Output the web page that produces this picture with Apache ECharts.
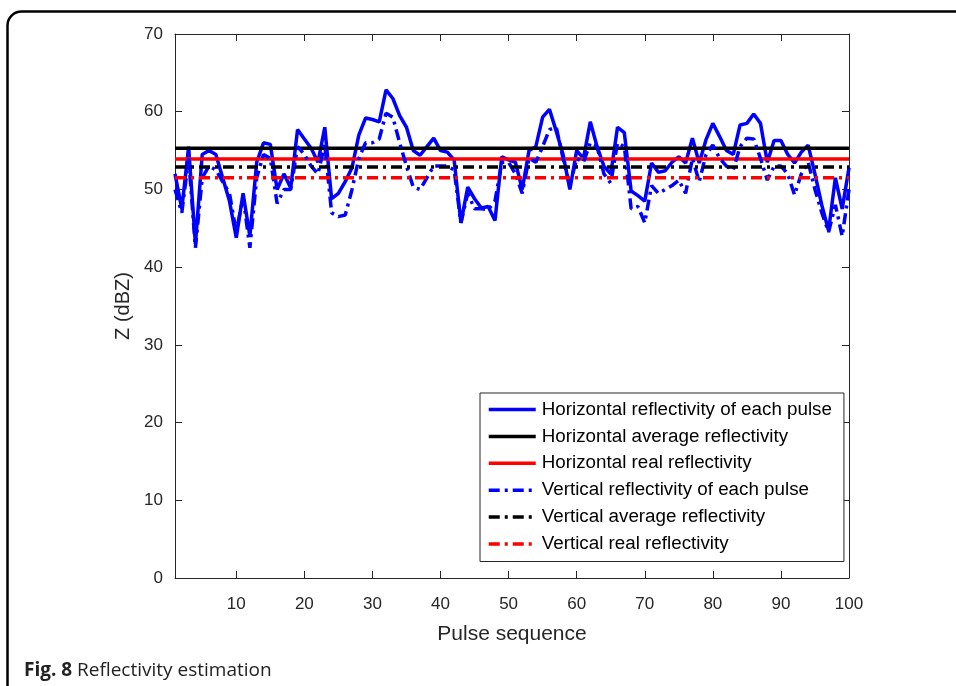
<!DOCTYPE html>
<html>
<head>
<meta charset="utf-8">
<script src="https://cdn.jsdelivr.net/npm/echarts@6/dist/echarts.min.js"></script>
<style>
  html, body { margin: 0; padding: 0; background: #fff; }
  #chart { width: 956px; height: 686px; }
</style>
</head>
<body>
<div id="chart"></div>
<script>
// pulse index 1..100
var pulses = [];
for (var i = 1; i <= 100; i++) pulses.push(i);

// horizontal reflectivity of each pulse (dBZ)
var hPulse = [
    52, 47.5, 55.5, 43, 54.5, 55, 54.5, 51.5, 48.5, 43.8,
    49.5, 44, 53.5, 56, 55.8, 50, 52, 50.2, 57.7, 56.5,
    55.3, 53.5, 58, 48.8, 49.5, 51, 52.8, 57, 59.2, 59,
    58.7, 62.8, 61.7, 59.5, 58, 55, 54.4, 55.5, 56.6, 55,
    54.8, 53.8, 45.7, 50.3, 48.8, 47.6, 47.8, 46, 54.2, 53.8,
    53.5, 50, 55, 55.5, 59.3, 60.3, 57.5, 54.5, 50, 55,
    54, 58.7, 55.5, 53, 52, 58, 57.3, 49.8, 49.2, 48.5,
    53.4, 52.2, 52.4, 53.5, 54.2, 53.4, 56.6, 53.4, 56.4, 58.5,
    56.8, 55, 54.5, 58.3, 58.5, 59.7, 58.5, 53.5, 56.3, 56.3,
    54.5, 53.4, 54.8, 55.7, 52, 48, 44.7, 51.5, 47.5, 52.8
];

// vertical reflectivity of each pulse (dBZ)
var vPulse = [
    50, 47, 54, 42.5, 51.5, 53, 52.5, 51, 49.5, 44.5,
    49, 42.5, 51.5, 54.5, 54, 48.2, 50, 50, 55.5, 54.5,
    53, 52, 55.8, 47, 46.5, 46.7, 50, 54, 56, 56,
    56.5, 59.8, 59.3, 56, 53, 50.3, 50, 51.5, 53, 53,
    53, 52.5, 45.7, 49.5, 47.5, 47.5, 47.4, 48.5, 53.5, 53.5,
    52, 49.5, 54, 53.5, 55.5, 57.7, 58, 54, 50.5, 54,
    53.5, 56, 55.5, 52, 50.8, 56, 55.5, 47.5, 47.8, 45.7,
    50.5, 49.5, 50, 50.5, 51.2, 49.5, 54, 51, 54.5, 55.7,
    54, 53, 52.5, 55.5, 56.6, 56.5, 54, 51.2, 53, 53,
    52, 49.3, 52, 53.5, 50, 47, 44.5, 48, 44, 50
];

var hAverage = 55.3;
var hReal = 53.9;
var vAverage = 52.9;
var vReal = 51.5;

var seriesNames = [
    'Horizontal reflectivity of each pulse',
    'Horizontal average reflectivity',
    'Horizontal real reflectivity',
    'Vertical reflectivity of each pulse',
    'Vertical average reflectivity',
    'Vertical real reflectivity'
];

var xTicks = [10, 20, 30, 40, 50, 60, 70, 80, 90, 100];

function pairs(values) {
    return pulses.map(function (p, k) { return [p, values[k]]; });
}
function flat(v) {
    return [[1, v], [100, v]];
}

var dashDot = [11, 5, 3, 5];
var axisGrey = '#262626';
var font = 'Liberation Sans, Arial, Helvetica, sans-serif';

function lineSeries(name, data, color, dashed) {
    return {
        name: name,
        type: 'line',
        data: data,
        symbol: 'none',
        animation: false,
        lineStyle: { color: color, width: 3.5, type: dashed ? dashDot : 'solid' },
        itemStyle: { color: color }
    };
}

var chart = echarts.init(document.getElementById('chart'));

var option = {
    backgroundColor: '#fff',
    animation: false,
    grid: { left: 175, right: 107, top: 34, bottom: 108, containLabel: false },
    xAxis: [{
        type: 'value',
        min: 1,
        max: 100,
        name: 'Pulse sequence',
        nameLocation: 'middle',
        nameGap: 46,
        nameTextStyle: { fontSize: 21, color: axisGrey, fontFamily: font },
        axisLine: { show: true, onZero: false, lineStyle: { color: axisGrey, width: 1 } },
        axisTick: { inside: true, length: 7, customValues: xTicks, lineStyle: { color: axisGrey } },
        axisLabel: { customValues: xTicks, fontSize: 17, color: axisGrey, fontFamily: font, margin: 18 },
        splitLine: { show: false }
    }, {
        type: 'value',
        position: 'top',
        min: 1,
        max: 100,
        axisLine: { show: true, onZero: false, lineStyle: { color: axisGrey, width: 1 } },
        axisTick: { inside: true, length: 7, customValues: xTicks, lineStyle: { color: axisGrey } },
        axisLabel: { show: false },
        splitLine: { show: false }
    }],
    yAxis: [{
        type: 'value',
        min: 0,
        max: 70,
        interval: 10,
        name: 'Z (dBZ)',
        nameLocation: 'middle',
        nameGap: 40,
        nameTextStyle: { fontSize: 20, color: axisGrey, fontFamily: font },
        axisLine: { show: true, onZero: false, lineStyle: { color: axisGrey, width: 1 } },
        axisTick: { inside: true, length: 7, lineStyle: { color: axisGrey } },
        axisLabel: { fontSize: 17, color: axisGrey, fontFamily: font, margin: 12 },
        splitLine: { show: false }
    }, {
        type: 'value',
        position: 'right',
        min: 0,
        max: 70,
        interval: 10,
        axisLine: { show: true, onZero: false, lineStyle: { color: axisGrey, width: 1 } },
        axisTick: { inside: true, length: 7, lineStyle: { color: axisGrey } },
        axisLabel: { show: false },
        splitLine: { show: false }
    }],
    legend: {
        orient: 'vertical',
        left: 480,
        top: 393,
        itemWidth: 47,
        itemHeight: 14,
        itemGap: 7.9,
        padding: [7, 12, 8, 7],
        backgroundColor: '#fff',
        borderColor: axisGrey,
        borderWidth: 1,
        textStyle: { fontSize: 18.8, lineHeight: 19, color: '#000', fontFamily: font, padding: [0, 0, 0, 1] },
        itemStyle: { opacity: 0 },
        lineStyle: { width: 3.5 },
        data: seriesNames
    },
    graphic: [{
        type: 'rect',
        left: 5,
        top: 9,
        shape: { x: 0, y: 0, width: 1000, height: 720, r: [14, 0, 0, 0] },
        style: { fill: 'none', stroke: '#000', lineWidth: 2.5 },
        silent: true
    }, {
        type: 'text',
        left: 24,
        top: 661,
        style: {
            text: '{b|Fig. 8} Reflectivity estimation',
            rich: {
                b: { fontWeight: 'bold', fontSize: 19, fontFamily: 'Open Sans, Noto Sans, sans-serif', fill: '#222' }
            },
            fontSize: 19,
            fontFamily: 'Open Sans, Noto Sans, sans-serif',
            fill: '#222'
        }
    }],
    series: [
        lineSeries(seriesNames[0], pairs(hPulse), '#0000ff', false),
        lineSeries(seriesNames[1], flat(hAverage), '#000000', false),
        lineSeries(seriesNames[2], flat(hReal), '#ff0000', false),
        lineSeries(seriesNames[3], pairs(vPulse), '#0000ff', true),
        lineSeries(seriesNames[4], flat(vAverage), '#000000', true),
        lineSeries(seriesNames[5], flat(vReal), '#ff0000', true)
    ]
};

chart.setOption(option);
</script>
</body>
</html>
